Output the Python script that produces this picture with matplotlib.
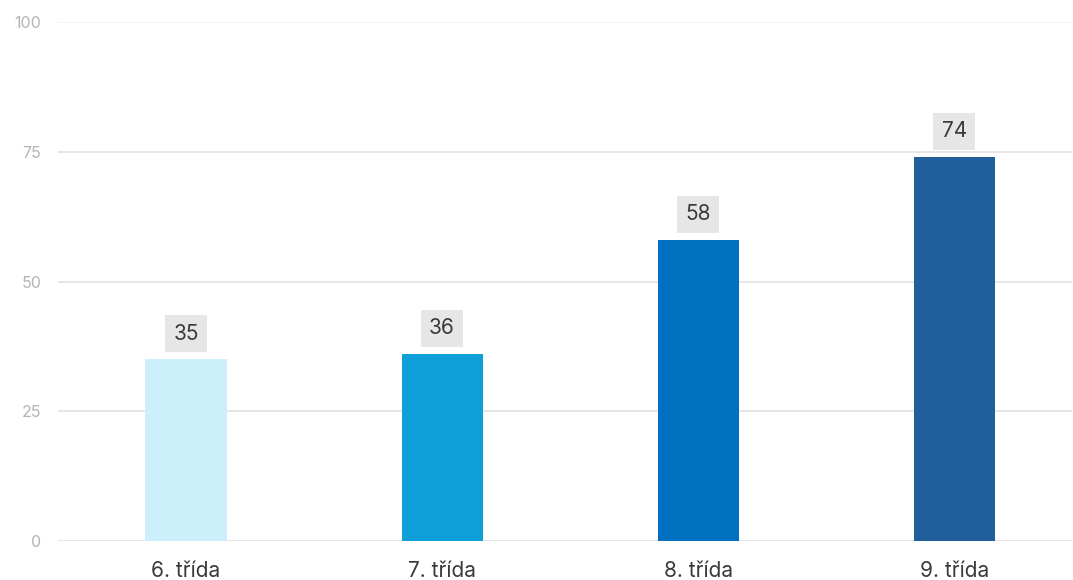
import matplotlib
matplotlib.use("Agg")
import matplotlib.pyplot as plt

categories = ["6. třída", "7. třída", "8. třída", "9. třída"]
values = [35, 36, 58, 74]
colors = ["#cdeefb", "#0e9fd8", "#0070c0", "#1f5f9c"]
yticks = [0, 25, 50, 75, 100]

plt.rcParams['font.family'] = ['Inter', 'DejaVu Sans']

W, H = 1073, 580
fig = plt.figure(figsize=(W / 100, H / 100), dpi=100)
ax = fig.add_axes([58 / W, 39 / H, (1072 - 58) / W, (541 - 22) / H])

x = list(range(len(categories)))
ax.bar(x, values, width=0.317, color=colors, zorder=3)
ax.set_xlim(-0.5, 3.46)
ax.set_ylim(0, 100)

for t in yticks:
    ax.axhline(t, color="#f3f3f3" if t == 100 else "#e4e4e4", lw=1.3, zorder=1)

ax.set_yticks(yticks)
ax.set_yticklabels([str(t) for t in yticks], color="#b4b4b4", fontsize=11.5)
ax.set_xticks(x)
ax.set_xticklabels(categories, color="#3a3a3a", fontsize=15)
ax.tick_params(axis="y", length=0, pad=12)
ax.tick_params(axis="x", length=0, pad=14.5)
for s in ax.spines.values():
    s.set_visible(False)

for xi, v in zip(x, values):
    ax.annotate(str(v), (xi, v), xytext=(0, 18.5), textcoords="offset points",
                ha="center", va="center", fontsize=15, color="#3a3a3a",
                bbox=dict(boxstyle="square,pad=0.4", fc="#e6e6e6", ec="none"),
                zorder=4)

fig.savefig("out.png", dpi=100)
